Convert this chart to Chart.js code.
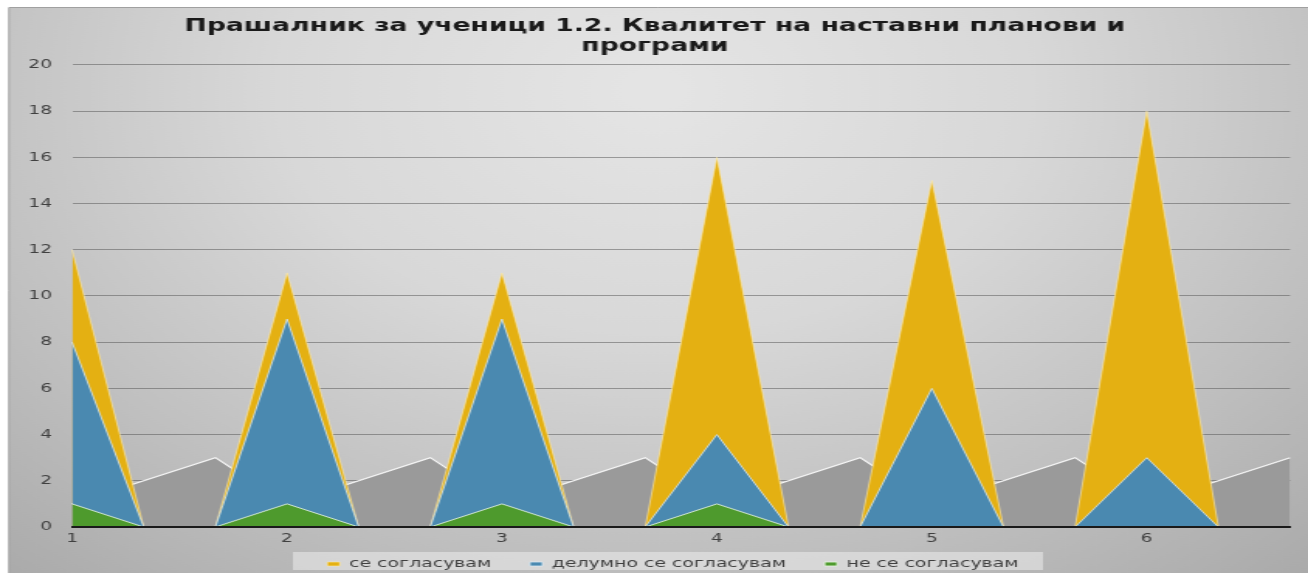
<!DOCTYPE html>
<html>
<head>
<meta charset="utf-8">
<script src="https://cdn.jsdelivr.net/npm/chart.js@4.4.1/dist/chart.umd.min.js"></script>
<style>
  html, body { margin: 0; padding: 0; background: #ffffff; overflow: hidden; }
  #c { display: block; }
</style>
</head>
<body>
<canvas id="c" width="844" height="573" style="width:1308px;height:573px;display:block"></canvas>
<script>
// ---- data ----
const categories = ['1', '', '', '2', '', '', '3', '', '', '4', '', '', '5', '', '', '6', '', ''];
const seriesNames = ['се согласувам', 'делумно се согласувам', 'не се согласувам'];
const agree        = [12, 0, 0, 11, 0, 0, 11, 0, 0, 16, 0, 0, 15, 0, 0, 18, 0, 0];
const partlyAgree  = [8, 0, 0, 9, 0, 0, 9, 0, 0, 4, 0, 0, 6, 0, 0, 3, 0, 0];
const disagree     = [1, 0, 0, 1, 0, 0, 1, 0, 0, 1, 0, 0, 0, 0, 0, 0, 0, 0];
const background   = [1, 2, 3, 1, 2, 3, 1, 2, 3, 1, 2, 3, 1, 2, 3, 1, 2, 3];
const yTicks = [0, 2, 4, 6, 8, 10, 12, 14, 16, 18, 20];
const titleLines = ['Прашалник за ученици 1.2. Квалитет на наставни планови и', 'програми'];

const bgPlugin = {
  id: 'bgPlugin',
  afterLayout(chart) {
    // nudge the legend row into place (right and up)
    const lg = chart.legend;
    if (lg) {
      const dx = 11.6, dy = 14.1;
      lg.left += dx; lg.right += dx;
      lg.top -= dy; lg.bottom -= dy;
    }
  },
  beforeDraw(chart) {
    const ctx = chart.ctx;
    const W = chart.width, H = chart.height;
    ctx.save();
    ctx.fillStyle = '#ffffff';
    ctx.fillRect(0, 0, W, H);
    const g = ctx.createRadialGradient(422, 90, 20, 422, 90, 660);
    g.addColorStop(0, '#e4e4e4');
    g.addColorStop(0.35, '#d8d8d8');
    g.addColorStop(0.7, '#bfbfbf');
    g.addColorStop(1, '#a8a8a8');
    ctx.fillStyle = g;
    ctx.fillRect(5.8, 7.5, W - 5.8, H - 7.5);
    ctx.strokeStyle = '#a0a0a0';
    ctx.lineWidth = 1;
    ctx.beginPath();
    ctx.moveTo(5.8, H);
    ctx.lineTo(5.8, 7.5);
    ctx.lineTo(W, 7.5);
    ctx.stroke();
    // legend panel
    const lg = chart.legend;
    if (lg) {
      const cx = (lg.left + lg.right) / 2 - 3.2;
      ctx.fillStyle = 'rgba(236,236,236,0.55)';
      ctx.fillRect(cx - 242, 552, 484, 18);
    }
    ctx.restore();
  }
};

const data = {
  labels: categories,
  datasets: [
    {
      label: seriesNames[0], data: agree, order: 3,
      backgroundColor: '#E4B012', borderColor: 'rgba(255,235,170,0.6)', borderWidth: 1,
      fill: 'origin', pointRadius: 0, tension: 0
    },
    {
      label: seriesNames[1], data: partlyAgree, order: 2,
      backgroundColor: '#4A89B0', borderColor: 'rgba(220,235,245,0.75)', borderWidth: 1,
      fill: 'origin', pointRadius: 0, tension: 0
    },
    {
      label: seriesNames[2], data: disagree, order: 1,
      backgroundColor: '#4E9A2D', borderColor: 'rgba(230,245,225,0.85)', borderWidth: 1,
      fill: 'origin', pointRadius: 0, tension: 0
    },
    {
      label: '', data: background, order: 4,
      backgroundColor: '#9A9A9A', borderColor: 'rgba(255,255,255,0.9)', borderWidth: 1.2,
      fill: 'origin', pointRadius: 0, tension: 0
    }
  ]
};

new Chart(document.getElementById('c'), {
  type: 'line',
  data,
  plugins: [bgPlugin],
  options: {
    responsive: false,
    animation: false,
    devicePixelRatio: 1,
    layout: { padding: { top: 10, left: 12.8, right: 11.6, bottom: -21.2 } },
    plugins: {
      tooltip: { enabled: false },
      title: {
        display: true,
        text: titleLines,
        color: '#1a1a1a',
        font: { family: 'DejaVu Sans', size: 17.2, weight: 'bold', lineHeight: 1.2 },
        padding: { top: 6, bottom: 7.7 }
      },
      legend: {
        position: 'bottom',
        labels: {
          filter: (item) => item.datasetIndex < 3,
          sort: (a, b) => a.datasetIndex - b.datasetIndex,
          color: '#404040',
          font: { family: 'DejaVu Sans', size: 12.2 },
          boxWidth: 8,
          boxHeight: 4,
          padding: 25
        }
      }
    },
    scales: {
      x: {
        offset: false,
        grid: { display: false, drawTicks: false },
        border: { display: true, color: '#1a1a1a', width: 2, z: 1 },
        ticks: {
          autoSkip: false, maxRotation: 0, padding: 5,
          color: '#404040', font: { family: 'DejaVu Sans', size: 12 }
        },
        afterFit(scale) { scale.height = 20; }
      },
      y: {
        min: 0, max: 20,
        afterBuildTicks(scale) { scale.ticks = yTicks.map(v => ({ value: v })); },
        grid: { color: 'rgba(80,80,80,0.5)', lineWidth: 1, drawTicks: false },
        border: { display: false },
        ticks: {
          padding: 12.9,
          color: '#404040', font: { family: 'DejaVu Sans', size: 12 }
        },
        afterFit(scale) { scale.width = 33.7; }
      }
    }
  }
});
</script>
</body>
</html>
